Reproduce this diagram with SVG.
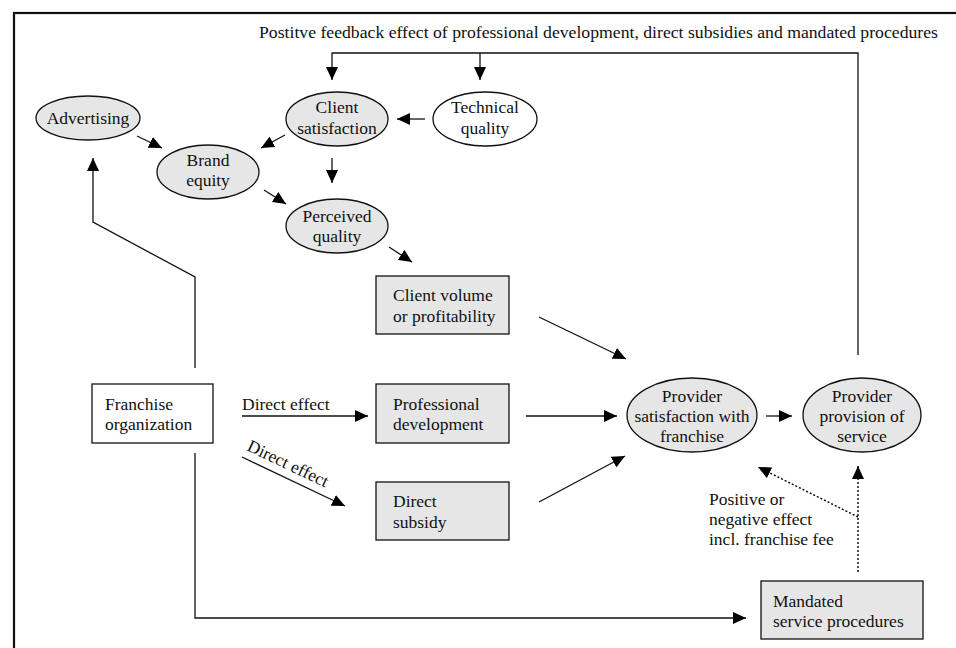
<svg xmlns="http://www.w3.org/2000/svg" width="956" height="648" viewBox="0 0 956 648">
<style>
text{font-family:"Liberation Serif","Times New Roman",serif;font-size:17.5px;fill:#111}
.c{text-anchor:middle}
.g{fill:#e6e6e6;stroke:#111;stroke-width:1.3}
.w{fill:#fff;stroke:#111;stroke-width:1.3}
.ln{fill:none;stroke:#111;stroke-width:1.3}
.dot{fill:none;stroke:#111;stroke-width:1.5;stroke-dasharray:2 2}
</style>
<defs>
<marker id="ah" markerUnits="userSpaceOnUse" markerWidth="14" markerHeight="12" refX="13" refY="6" orient="auto">
<path d="M0,0 L13,6 L0,12 z" fill="#000"/>
</marker>
</defs>
<rect x="0" y="0" width="956" height="648" fill="#fff"/>
<rect x="14" y="13" width="960" height="660" fill="none" stroke="#111" stroke-width="2.2"/>
<text x="259" y="38" style="font-size:17.7px">Postitve feedback effect of professional development, direct subsidies and mandated procedures</text>

<g id="connectors">
<path class="ln" d="M858,355 L858,53 L332,53 L332,80" marker-end="url(#ah)"/>
<path class="ln" d="M480,53 L480,80" marker-end="url(#ah)"/>
<path class="ln" d="M137,136 L162,148" marker-end="url(#ah)"/>
<path class="ln" d="M285,135 L261,148" marker-end="url(#ah)"/>
<path class="ln" d="M425,119 L397,119" marker-end="url(#ah)"/>
<path class="ln" d="M332,158 L332,183" marker-end="url(#ah)"/>
<path class="ln" d="M264,190 L286,204" marker-end="url(#ah)"/>
<path class="ln" d="M389,247 L412,262" marker-end="url(#ah)"/>
<path class="ln" d="M539,317 L626,359" marker-end="url(#ah)"/>
<path class="ln" d="M526,416 L617,416" marker-end="url(#ah)"/>
<path class="ln" d="M539,502 L625,456" marker-end="url(#ah)"/>
<path class="ln" d="M766,416 L792,416" marker-end="url(#ah)"/>
<path class="ln" d="M242,416 L368,416" marker-end="url(#ah)"/>
<path class="ln" d="M242,457 L345,506" marker-end="url(#ah)"/>
<path class="ln" d="M195,368 L195,277 L93,222 L93,158" marker-end="url(#ah)"/>
<path class="ln" d="M195,453 L195,618 L746,618" marker-end="url(#ah)"/>
<path class="dot" d="M858,572 L858,466" marker-end="url(#ah)"/>
<path class="dot" d="M858,517 L758,467" marker-end="url(#ah)"/>
<text x="242" y="410">Direct effect</text>
<text transform="translate(246,450) rotate(25.4)">Direct effect</text>
<text x="709" y="505">Positive or</text>
<text x="709" y="525">negative effect</text>
<text x="709" y="545">incl. franchise fee</text>
</g>

<g id="advertising"><ellipse class="g" cx="88" cy="118" rx="52" ry="22"/><text class="c" x="88" y="124">Advertising</text></g>
<g id="client-satisfaction"><ellipse class="g" cx="337" cy="119" rx="51" ry="27"/><text class="c" x="337" y="113">Client</text><text class="c" x="337" y="134">satisfaction</text></g>
<g id="technical-quality"><ellipse class="w" cx="485" cy="119" rx="52" ry="27"/><text class="c" x="485" y="113">Technical</text><text class="c" x="485" y="134">quality</text></g>
<g id="brand-equity"><ellipse class="g" cx="208" cy="172" rx="51" ry="27"/><text class="c" x="208" y="166">Brand</text><text class="c" x="208" y="186">equity</text></g>
<g id="perceived-quality"><ellipse class="g" cx="337" cy="226" rx="51" ry="27"/><text class="c" x="337" y="222">Perceived</text><text class="c" x="337" y="242">quality</text></g>
<g id="client-volume"><rect class="g" x="376" y="276" width="133" height="58"/><text x="393" y="301">Client volume</text><text x="393" y="322">or profitability</text></g>
<g id="franchise-organization"><rect class="w" x="92" y="384" width="121" height="59"/><text x="105" y="410">Franchise</text><text x="105" y="430">organization</text></g>
<g id="professional-development"><rect class="g" x="376" y="384" width="133" height="59"/><text x="393" y="410">Professional</text><text x="393" y="430">development</text></g>
<g id="direct-subsidy"><rect class="g" x="376" y="482" width="133" height="58"/><text x="393" y="507">Direct</text><text x="393" y="528">subsidy</text></g>
<g id="provider-satisfaction"><ellipse class="g" cx="692" cy="415" rx="65" ry="37"/><text class="c" x="692" y="402">Provider</text><text class="c" x="692" y="422">satisfaction with</text><text class="c" x="692" y="442">franchise</text></g>
<g id="provider-provision"><ellipse class="g" cx="862" cy="415" rx="59" ry="37"/><text class="c" x="862" y="402">Provider</text><text class="c" x="862" y="422">provision of</text><text class="c" x="862" y="442">service</text></g>
<g id="mandated-procedures"><rect class="g" x="761" y="581" width="162" height="58"/><text x="773" y="607">Mandated</text><text x="773" y="627">service procedures</text></g>
</svg>
